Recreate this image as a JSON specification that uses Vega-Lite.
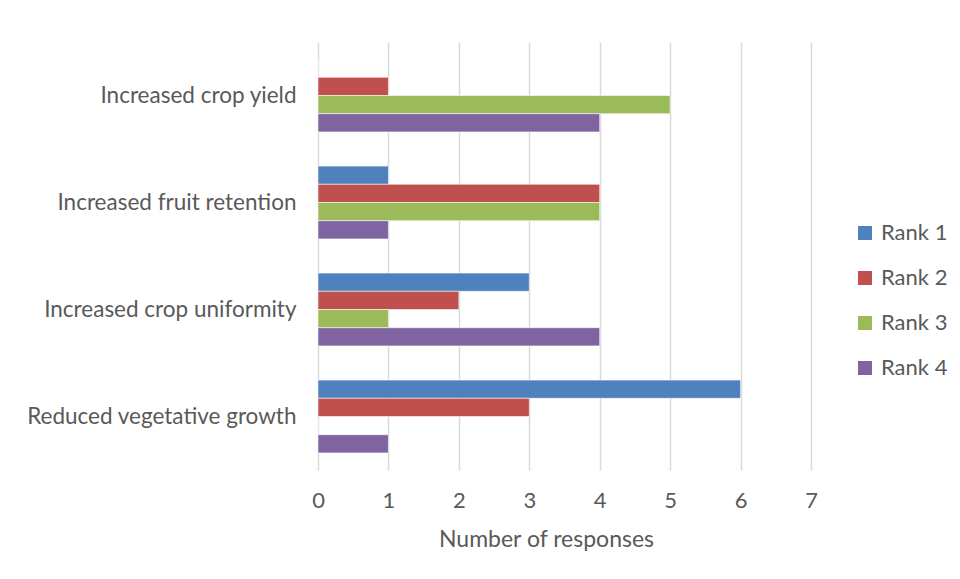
{
  "$schema": "https://vega.github.io/schema/vega-lite/v6.json",
  "width": 493,
  "height": 428,
  "autosize": "none",
  "padding": {"left": 318, "top": 42, "right": 149, "bottom": 109},
  "background": "white",
  "config": {
    "view": {"stroke": null},
    "font": "Lato",
    "axis": {
      "labelFont": "Lato",
      "titleFont": "Lato",
      "labelColor": "#595959",
      "titleColor": "#595959",
      "domain": false,
      "ticks": false
    },
    "legend": {"labelFont": "Lato", "labelColor": "#595959"}
  },
  "data": {
    "values": [
      {"benefit": "Increased crop yield", "rank": "Rank 1", "responses": 0},
      {"benefit": "Increased crop yield", "rank": "Rank 2", "responses": 1},
      {"benefit": "Increased crop yield", "rank": "Rank 3", "responses": 5},
      {"benefit": "Increased crop yield", "rank": "Rank 4", "responses": 4},
      {"benefit": "Increased fruit retention", "rank": "Rank 1", "responses": 1},
      {"benefit": "Increased fruit retention", "rank": "Rank 2", "responses": 4},
      {"benefit": "Increased fruit retention", "rank": "Rank 3", "responses": 4},
      {"benefit": "Increased fruit retention", "rank": "Rank 4", "responses": 1},
      {"benefit": "Increased crop uniformity", "rank": "Rank 1", "responses": 3},
      {"benefit": "Increased crop uniformity", "rank": "Rank 2", "responses": 2},
      {"benefit": "Increased crop uniformity", "rank": "Rank 3", "responses": 1},
      {"benefit": "Increased crop uniformity", "rank": "Rank 4", "responses": 4},
      {"benefit": "Reduced vegetative growth", "rank": "Rank 1", "responses": 6},
      {"benefit": "Reduced vegetative growth", "rank": "Rank 2", "responses": 3},
      {"benefit": "Reduced vegetative growth", "rank": "Rank 3", "responses": 0},
      {"benefit": "Reduced vegetative growth", "rank": "Rank 4", "responses": 1}
    ]
  },
  "mark": {"type": "bar", "stroke": "white", "strokeWidth": 0.8, "strokeOpacity": 0.7},
  "encoding": {
    "y": {
      "field": "benefit",
      "type": "nominal",
      "sort": ["Increased crop yield", "Increased fruit retention", "Increased crop uniformity", "Reduced vegetative growth"],
      "scale": {"paddingInner": 0.32, "paddingOuter": 0.16},
      "axis": {"title": null, "labelFontSize": 22.5, "labelPadding": 22, "labelLimit": 0, "grid": false}
    },
    "yOffset": {
      "field": "rank",
      "type": "nominal",
      "sort": ["Rank 1", "Rank 2", "Rank 3", "Rank 4"]
    },
    "x": {
      "field": "responses",
      "type": "quantitative",
      "scale": {"domain": [0, 7], "nice": false},
      "axis": {
        "title": "Number of responses",
        "values": [0, 1, 2, 3, 4, 5, 6, 7],
        "labelFontSize": 22,
        "labelFlush": false,
        "labelPadding": 20,
        "titleFontSize": 23,
        "titleFontWeight": "normal",
        "titlePadding": 17,
        "titleX": 228,
        "grid": true,
        "gridColor": "#D9D9D9",
        "gridWidth": 1.5
      }
    },
    "color": {
      "field": "rank",
      "type": "nominal",
      "scale": {
        "domain": ["Rank 1", "Rank 2", "Rank 3", "Rank 4"],
        "range": ["#4F81BD", "#C0504D", "#9BBB59", "#8064A2"]
      },
      "legend": {
        "title": null,
        "orient": "none",
        "legendX": 536,
        "legendY": 180,
        "symbolType": "square",
        "symbolSize": 196,
        "symbolStrokeWidth": 0,
        "labelFontSize": 22,
        "labelOffset": 5,
        "rowPadding": 23
      }
    }
  }
}
